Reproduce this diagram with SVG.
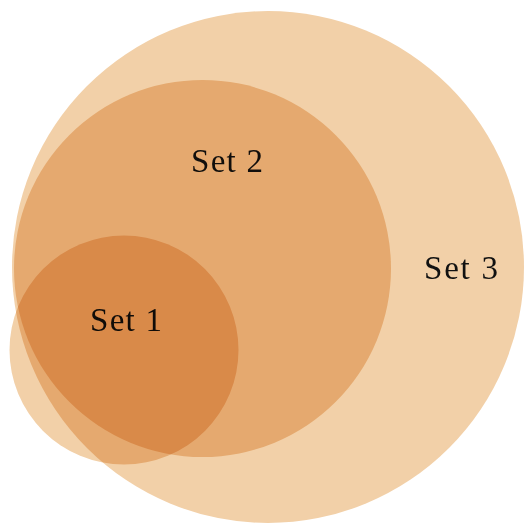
<svg xmlns="http://www.w3.org/2000/svg" width="524" height="524" viewBox="0 0 524 524">
  <style>
    .node { mix-blend-mode: multiply; }
    .set { fill: #f2d0a8; }
    .lbl { font-family: "Liberation Serif", "DejaVu Serif", serif; font-size: 33px; fill: #111; text-anchor: middle; }
  </style>
  <rect width="524" height="524" fill="#ffffff"/>
  <g id="set3" class="node">
    <circle class="set" cx="268" cy="267" r="256"/>
    <text class="lbl" x="461" y="279" textLength="74" lengthAdjust="spacing">Set 3</text>
  </g>
  <g id="set2" class="node">
    <circle class="set" cx="202.5" cy="268.5" r="188.5"/>
    <text class="lbl" x="227" y="172" textLength="72" lengthAdjust="spacing">Set 2</text>
  </g>
  <g id="set1" class="node">
    <circle class="set" cx="124" cy="350" r="114.5"/>
    <text class="lbl" x="126" y="331" textLength="72" lengthAdjust="spacing">Set 1</text>
  </g>
</svg>
